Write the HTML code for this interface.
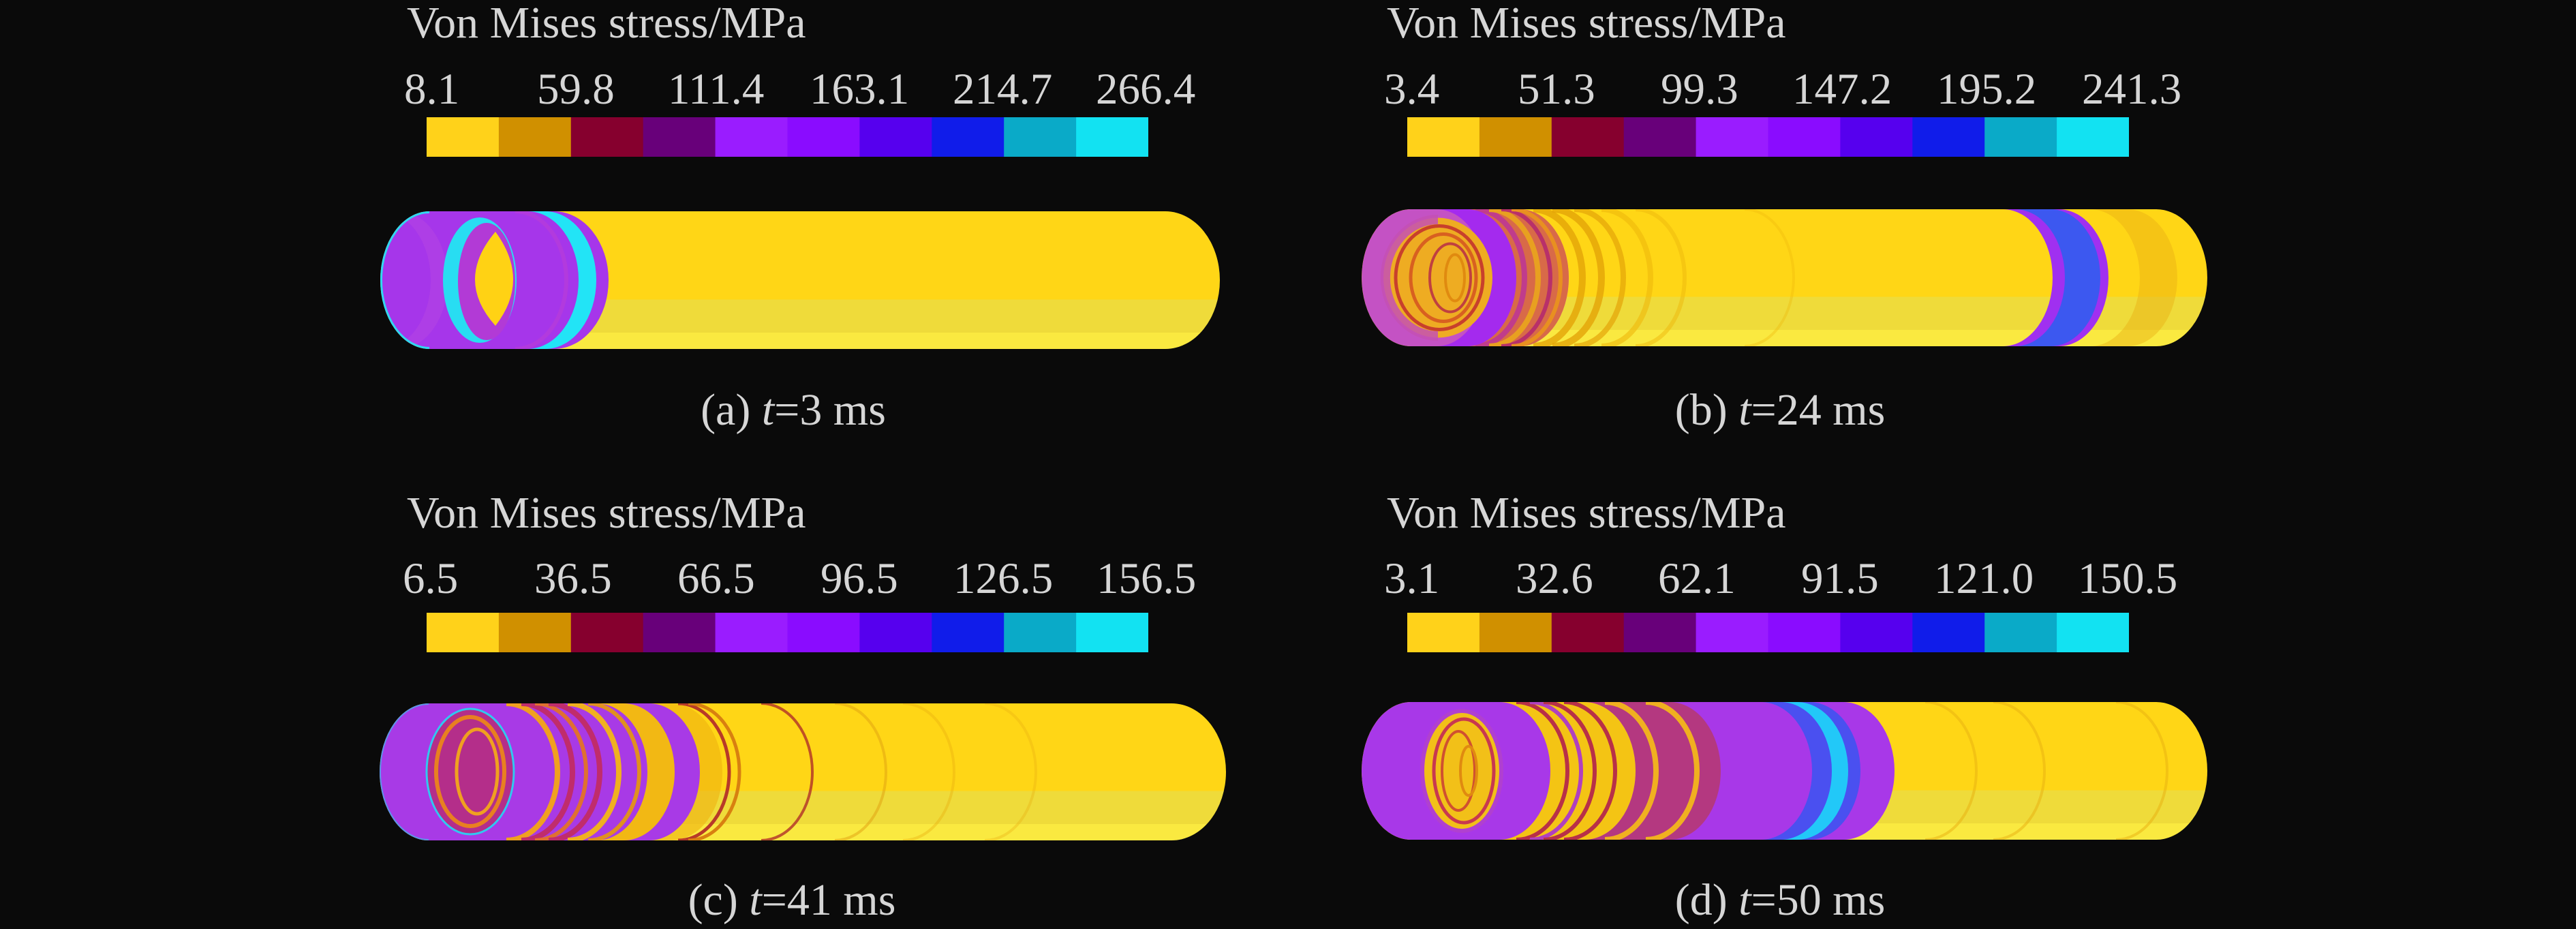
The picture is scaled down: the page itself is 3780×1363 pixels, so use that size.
<!DOCTYPE html>
<html>
<head>
<meta charset="utf-8">
<style>
html,body{margin:0;padding:0;background:#0a0a0a;}
svg{display:block;}
text{font-family:"Liberation Serif","Times New Roman",serif;fill:#d6d6d6;}
</style>
</head>
<body>
<svg width="3780" height="1363" viewBox="0 0 3780 1363" xmlns="http://www.w3.org/2000/svg">
<defs>
  <linearGradient id="tube" x1="0" y1="0" x2="0" y2="1">
    <stop offset="0" stop-color="#FFD616"/>
    <stop offset="0.64" stop-color="#FFD616"/>
    <stop offset="0.64" stop-color="#EFDB3A"/>
    <stop offset="0.88" stop-color="#EFDB3A"/>
    <stop offset="0.88" stop-color="#FAE940"/>
    <stop offset="1" stop-color="#FAE940"/>
  </linearGradient>
  <g id="cb">
    <rect x="0" y="0" width="106.5" height="58" fill="#FFD21A"/>
    <rect x="105.9" y="0" width="106.5" height="58" fill="#D09000"/>
    <rect x="211.8" y="0" width="106.5" height="58" fill="#86002E"/>
    <rect x="317.7" y="0" width="106.5" height="58" fill="#68007A"/>
    <rect x="423.6" y="0" width="106.5" height="58" fill="#9A1CFF"/>
    <rect x="529.5" y="0" width="106.5" height="58" fill="#8A0CFF"/>
    <rect x="635.4" y="0" width="106.5" height="58" fill="#5600EE"/>
    <rect x="741.3" y="0" width="106.5" height="58" fill="#101CEA"/>
    <rect x="847.2" y="0" width="106.5" height="58" fill="#0AAAC8"/>
    <rect x="953.1" y="0" width="105.9" height="58" fill="#12E2F2"/>
  </g>
  <clipPath id="clipA"><path d="M 630,310 H 1710 A 80 101 0 0 1 1710,512 H 630 A 72 101 0 0 1 630,310 Z"/></clipPath>
  <clipPath id="clipB"><path d="M 2070,307 H 3164 A 75 100.5 0 0 1 3164,508 H 2070 A 72 100.5 0 0 1 2070,307 Z"/></clipPath>
  <clipPath id="clipC"><path d="M 629,1032 H 1719 A 80 100.5 0 0 1 1719,1233 H 629 A 72 100.5 0 0 1 629,1032 Z"/></clipPath>
  <clipPath id="clipD"><path d="M 2070,1030 H 3164 A 75 101 0 0 1 3164,1232 H 2070 A 72 101 0 0 1 2070,1030 Z"/></clipPath>
</defs>

<rect x="0" y="0" width="3780" height="1363" fill="#0a0a0a"/>

<!-- ===== Titles ===== -->
<text x="597" y="55" font-size="66">Von Mises stress/MPa</text>
<text x="2035" y="55" font-size="66">Von Mises stress/MPa</text>
<text x="597" y="774" font-size="66">Von Mises stress/MPa</text>
<text x="2035" y="774" font-size="66">Von Mises stress/MPa</text>

<!-- ===== Tick labels ===== -->
<g font-size="65">
  <text x="593" y="152">8.1</text>
  <text x="788" y="152">59.8</text>
  <text x="980" y="152">111.4</text>
  <text x="1188" y="152">163.1</text>
  <text x="1398" y="152">214.7</text>
  <text x="1608" y="152">266.4</text>

  <text x="2031" y="152">3.4</text>
  <text x="2227" y="152">51.3</text>
  <text x="2437" y="152">99.3</text>
  <text x="2630" y="152">147.2</text>
  <text x="2842" y="152">195.2</text>
  <text x="3055" y="152">241.3</text>

  <text x="591" y="870">6.5</text>
  <text x="784" y="870">36.5</text>
  <text x="994" y="870">66.5</text>
  <text x="1204" y="870">96.5</text>
  <text x="1399" y="870">126.5</text>
  <text x="1609" y="870">156.5</text>

  <text x="2031" y="870">3.1</text>
  <text x="2224" y="870">32.6</text>
  <text x="2433" y="870">62.1</text>
  <text x="2643" y="870">91.5</text>
  <text x="2838" y="870">121.0</text>
  <text x="3049" y="870">150.5</text>
</g>

<!-- ===== Colorbars ===== -->
<use href="#cb" x="626" y="172"/>
<use href="#cb" x="2065" y="172"/>
<use href="#cb" x="626" y="899"/>
<use href="#cb" x="2065" y="899"/>

<!-- ===== Panel (a) tube ===== -->
<path d="M 630,310 H 1710 A 80 101 0 0 1 1710,512 H 630 A 72 101 0 0 1 630,310 Z" fill="url(#tube)"/>
<g clip-path="url(#clipA)">
  <path d="M 630,310 A 72 101 0 0 0 630,512 L 813,512 A 80 101 0 0 0 813,310 Z" fill="#A636EA"/>
  <path d="M 560,310 A 72 101 0 0 1 560,512 L 585,512 A 72 101 0 0 0 585,310 Z" fill="#B444E2" opacity="0.6"/>
  <path d="M 774,310 A 75 101 0 0 1 774,512 L 800,512 A 75 101 0 0 0 800,310 Z" fill="#22E4F6"/>
  <path d="M 756,310 A 75 101 0 0 1 756,512" fill="none" stroke="#B83CD8" stroke-width="6" opacity="0.7"/>
  <ellipse cx="704" cy="411" rx="54" ry="92" fill="#28DDF2"/>
  <ellipse cx="714" cy="413" rx="42" ry="86" fill="#B23AD6"/>
  <path d="M 727,340 Q 667,411 727,478 Q 779,411 727,340 Z" fill="#FFD214"/>
  <path d="M 630,310 A 72 101 0 0 0 630,512" fill="none" stroke="#30D8F0" stroke-width="6"/>
</g>

<!-- ===== Panel (b) tube ===== -->
<path d="M 2070,307 H 3164 A 75 100.5 0 0 1 3164,508 H 2070 A 72 100.5 0 0 1 2070,307 Z" fill="url(#tube)"/>
<g clip-path="url(#clipB)">
  <g fill="none">
    <path d="M 2250,307 A 72 100.5 0 0 1 2250,508" stroke="#E4A408" stroke-width="10" opacity="0.8"/>
    <path d="M 2278,307 A 72 100.5 0 0 1 2278,508" stroke="#E4A408" stroke-width="10" opacity="0.8"/>
    <path d="M 2310,307 A 72 100.5 0 0 1 2310,508" stroke="#E4A408" stroke-width="8" opacity="0.7"/>
    <path d="M 2350,307 A 72 100.5 0 0 1 2350,508" stroke="#EEB80C" stroke-width="8" opacity="0.6"/>
    <path d="M 2400,307 A 72 100.5 0 0 1 2400,508" stroke="#EEB80C" stroke-width="6" opacity="0.5"/>
    <path d="M 2560,307 A 72 100.5 0 0 1 2560,508" stroke="#EEB80C" stroke-width="4" opacity="0.35"/>
  </g>
  <path d="M 2070,307 A 72 100.5 0 0 0 2070,508 L 2230,508 A 72 100.5 0 0 0 2230,307 Z" fill="#C452C4"/>
  <path d="M 2153,307 A 72 100.5 0 0 1 2153,508 L 2230,508 A 72 100.5 0 0 0 2230,307 Z" fill="#D86A48"/>
  <g fill="none">
    <path d="M 2165,307 A 72 100.5 0 0 1 2165,508" stroke="#C03C8C" stroke-width="8"/>
    <path d="M 2185,307 A 72 100.5 0 0 1 2185,508" stroke="#E8A020" stroke-width="8"/>
    <path d="M 2203,307 A 72 100.5 0 0 1 2203,508" stroke="#B8306A" stroke-width="6"/>
    <path d="M 2218,307 A 72 100.5 0 0 1 2218,508" stroke="#E89020" stroke-width="6"/>
  </g>
  <path d="M 2108,307 A 72 100.5 0 0 1 2108,508 L 2153,508 A 72 100.5 0 0 0 2153,307 Z" fill="#A42AEE"/>
  <ellipse cx="2110" cy="407.5" rx="80" ry="88" fill="#EEAC22"/>
  <path d="M 2110,322 A 74 82 0 0 0 2110,493" fill="none" stroke="#C450B4" stroke-width="14" opacity="0.85"/>
  <ellipse cx="2112" cy="407.5" rx="64" ry="76" fill="none" stroke="#C8402C" stroke-width="5"/>
  <ellipse cx="2118" cy="407.5" rx="48" ry="64" fill="none" stroke="#D86020" stroke-width="5"/>
  <ellipse cx="2128" cy="407.5" rx="30" ry="50" fill="none" stroke="#C04040" stroke-width="4"/>
  <ellipse cx="2135" cy="407.5" rx="14" ry="34" fill="none" stroke="#E08A10" stroke-width="4"/>
  <path d="M 2939,307 A 73 100.5 0 0 1 2939,508 L 3021,508 A 73 100.5 0 0 0 3021,307 Z" fill="#A030F0"/>
  <path d="M 2957,307 A 73 100.5 0 0 1 2957,508 L 3009,508 A 73 100.5 0 0 0 3009,307 Z" fill="#3C58F0"/>
  <path d="M 3067,307 A 73 100.5 0 0 1 3067,508 L 3122,508 A 73 100.5 0 0 0 3122,307 Z" fill="#E8B014" opacity="0.45"/>
</g>

<!-- ===== Panel (c) tube ===== -->
<path d="M 629,1032 H 1719 A 80 100.5 0 0 1 1719,1233 H 629 A 72 100.5 0 0 1 629,1032 Z" fill="url(#tube)"/>
<g clip-path="url(#clipC)">
  <path d="M 915,1032 A 75 100.5 0 0 1 915,1233 L 985,1233 A 75 100.5 0 0 0 985,1032 Z" fill="#EEB010" opacity="0.6"/>
  <g fill="none">
    <path d="M 995,1032 A 75 100.5 0 0 1 995,1233" stroke="#B83A28" stroke-width="5"/>
    <path d="M 1010,1032 A 75 100.5 0 0 1 1010,1233" stroke="#D88010" stroke-width="5"/>
    <path d="M 1117,1032 A 75 100.5 0 0 1 1117,1233" stroke="#B03028" stroke-width="4" opacity="0.8"/>
    <path d="M 1225,1032 A 75 100.5 0 0 1 1225,1233" stroke="#E0A010" stroke-width="4" opacity="0.5"/>
    <path d="M 1325,1032 A 75 100.5 0 0 1 1325,1233" stroke="#E8B010" stroke-width="4" opacity="0.4"/>
    <path d="M 1445,1032 A 75 100.5 0 0 1 1445,1233" stroke="#E8B010" stroke-width="4" opacity="0.35"/>
  </g>
  <path d="M 629,1032 A 72 100.5 0 0 0 629,1233 L 952,1233 A 75 100.5 0 0 0 952,1032 Z" fill="#A83AE6"/>
  <path d="M 875,1032 A 75 100.5 0 0 1 875,1233 L 915,1233 A 75 100.5 0 0 0 915,1032 Z" fill="#F2B814"/>
  <g fill="none">
    <path d="M 743,1032 A 75 100.5 0 0 1 743,1233" stroke="#F0A020" stroke-width="8"/>
    <path d="M 765,1032 A 75 100.5 0 0 1 765,1233" stroke="#C02C6C" stroke-width="8"/>
    <path d="M 785,1032 A 75 100.5 0 0 1 785,1233" stroke="#E07030" stroke-width="6"/>
    <path d="M 805,1032 A 75 100.5 0 0 1 805,1233" stroke="#C02C6C" stroke-width="8"/>
    <path d="M 833,1032 A 75 100.5 0 0 1 833,1233" stroke="#F0B020" stroke-width="8"/>
    <path d="M 863,1032 A 75 100.5 0 0 1 863,1233" stroke="#E09020" stroke-width="6"/>
  </g>
  <ellipse cx="690" cy="1132" rx="64" ry="92" fill="#B42E8A" stroke="#30C8F0" stroke-width="3"/>
  <ellipse cx="690" cy="1132" rx="50" ry="80" fill="none" stroke="#E88020" stroke-width="6"/>
  <ellipse cx="700" cy="1132" rx="30" ry="62" fill="none" stroke="#F0A020" stroke-width="5"/>
  <path d="M 629,1032 A 72 100.5 0 0 0 629,1233" fill="none" stroke="#3CB8F0" stroke-width="4" opacity="0.7"/>
</g>

<!-- ===== Panel (d) tube ===== -->
<path d="M 2070,1030 H 3164 A 75 101 0 0 1 3164,1232 H 2070 A 72 101 0 0 1 2070,1030 Z" fill="url(#tube)"/>
<g clip-path="url(#clipD)">
  <g fill="none">
    <path d="M 2825,1030 A 75 101 0 0 1 2825,1232" stroke="#E8B010" stroke-width="4" opacity="0.5"/>
    <path d="M 2925,1030 A 75 101 0 0 1 2925,1232" stroke="#E8B010" stroke-width="4" opacity="0.5"/>
    <path d="M 3105,1030 A 75 101 0 0 1 3105,1232" stroke="#E8B010" stroke-width="4" opacity="0.5"/>
  </g>
  <path d="M 2070,1030 A 72 101 0 0 0 2070,1232 L 2705,1232 A 75 101 0 0 0 2705,1030 Z" fill="#A838E8"/>
  <path d="M 2584,1030 A 75 101 0 0 1 2584,1232 L 2655,1232 A 75 101 0 0 0 2655,1030 Z" fill="#4A50F0"/>
  <path d="M 2613,1030 A 75 101 0 0 1 2613,1232 L 2637,1232 A 75 101 0 0 0 2637,1030 Z" fill="#22C8F8"/>
  <path d="M 2325,1030 A 75 101 0 0 1 2325,1232 L 2450,1232 A 75 101 0 0 0 2450,1030 Z" fill="#B43880"/>
  <g fill="none">
    <path d="M 2355,1030 A 75 101 0 0 1 2355,1232" stroke="#F0B020" stroke-width="8"/>
    <path d="M 2415,1030 A 75 101 0 0 1 2415,1232" stroke="#F0B020" stroke-width="8"/>
  </g>
  <path d="M 2200,1030 A 75 101 0 0 1 2200,1232 L 2325,1232 A 75 101 0 0 0 2325,1030 Z" fill="#F4C414"/>
  <g fill="none">
    <path d="M 2225,1030 A 75 101 0 0 1 2225,1232" stroke="#B83048" stroke-width="6"/>
    <path d="M 2245,1030 A 75 101 0 0 1 2245,1232" stroke="#B040C0" stroke-width="6"/>
    <path d="M 2265,1030 A 75 101 0 0 1 2265,1232" stroke="#B83048" stroke-width="6"/>
    <path d="M 2295,1030 A 75 101 0 0 1 2295,1232" stroke="#B83048" stroke-width="6"/>
  </g>
  <ellipse cx="2145" cy="1131" rx="58" ry="88" fill="#F2C018" stroke="#B040D0" stroke-width="6"/>
  <ellipse cx="2148" cy="1131" rx="44" ry="76" fill="none" stroke="#C83850" stroke-width="5"/>
  <ellipse cx="2140" cy="1131" rx="24" ry="58" fill="none" stroke="#D05030" stroke-width="4"/>
  <ellipse cx="2155" cy="1131" rx="12" ry="36" fill="none" stroke="#E08A10" stroke-width="4"/>
</g>

<!-- ===== Captions ===== -->
<g font-size="66" text-anchor="middle">
  <text x="1164" y="623">(a) <tspan font-style="italic">t</tspan>=3 ms</text>
  <text x="2612" y="623">(b) <tspan font-style="italic">t</tspan>=24 ms</text>
  <text x="1162" y="1342">(c) <tspan font-style="italic">t</tspan>=41 ms</text>
  <text x="2612" y="1342">(d) <tspan font-style="italic">t</tspan>=50 ms</text>
</g>
</svg>
</body>
</html>
